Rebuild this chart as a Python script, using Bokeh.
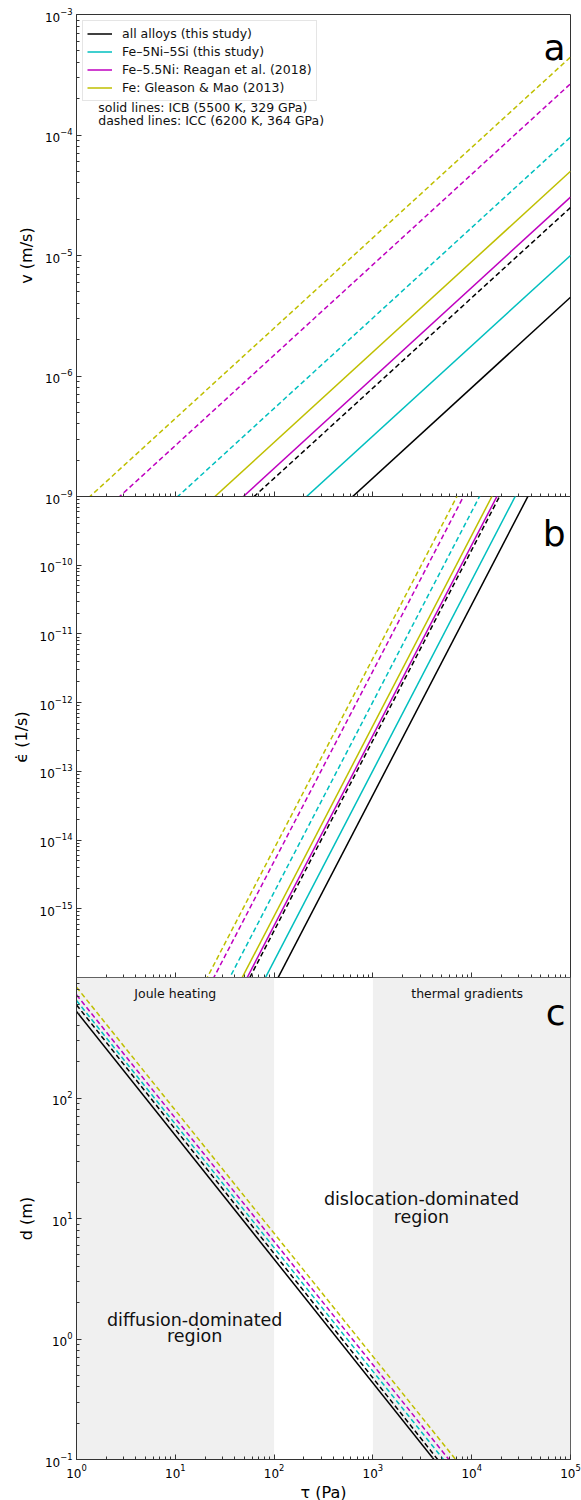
from bokeh.plotting import figure
from bokeh.layouts import column
from bokeh.models import (FixedTicker, Legend, LegendItem, Label, BoxAnnotation, Range1d)
from bokeh.embed import file_html
from bokeh.resources import INLINE

FONT = "DejaVu Sans"

# ---------------- data ----------------
tau = [1.0, 1e5]                       # shear stress end points (Pa)

# panel a: velocity v (m/s) at tau = 1 and 1e5 Pa
v_all_icb = [8.0e-10, 4.5e-6]
v_all_icc = [4.5e-9, 2.5e-5]
v_fenisi_icb = [1.8e-9, 1.0e-5]
v_fenisi_icc = [1.7e-8, 9.6e-5]
v_feni_icb = [5.4e-9, 3.05e-5]
v_feni_icc = [4.7e-8, 2.66e-4]
v_fe_icb = [8.9e-9, 5.0e-5]
v_fe_icc = [7.9e-8, 4.43e-4]

# panel b: strain rate (1/s) at tau = 1 and 1e5 Pa
e_all_icb = [2.22e-22, 1.57e-8]
e_all_icc = [1.38e-21, 9.8e-8]
e_fenisi_icb = [5.02e-22, 3.56e-8]
e_fenisi_icc = [5.02e-21, 3.56e-7]
e_feni_icb = [1.63e-21, 1.16e-7]
e_feni_icc = [1.41e-20, 1.0e-6]
e_fe_icb = [2.26e-21, 1.60e-7]
e_fe_icc = [2.16e-20, 1.53e-6]

# panel c: length scale d (m) at tau = 1 and 1e5 Pa
d_all_icb = [522.0, 0.0038]
d_all_icc = [593.0, 0.0041]
d_fenisi_icc = [644.0, 0.0048]
d_feni_icc = [718.0, 0.0055]
d_fe_icc = [832.0, 0.0065]

legend_labels = ["all alloys (this study)", "Fe\u20135Ni\u20135Si (this study)",
                 "Fe\u20135.5Ni: Reagan et al. (2018)", "Fe: Gleason & Mao (2013)"]
colors = ["#000000", "#00bfbf", "#bf00bf", "#bfbf00"]

diffusion_max_tau = 100.0
dislocation_min_tau = 1000.0

x_tick_exps = [0, 1, 2, 3, 4, 5]
ya_tick_exps = [-6, -5, -4, -3]
yb_tick_exps = [-15, -14, -13, -12, -11, -10, -9]
yc_tick_exps = [-1, 0, 1, 2]

# ---------------- helpers ----------------
AX = "#333333"
TICK_FS = "12px"
AXLAB_FS = "16px"


def minors(lo, hi):
    return [m * 10.0 ** k for k in range(lo, hi) for m in range(2, 10)]


def style_axis(ax, exps, lo, hi, labels=True):
    ax.ticker = FixedTicker(ticks=[10.0 ** k for k in exps], minor_ticks=minors(lo, hi))
    ax.major_tick_in = 5
    ax.major_tick_out = 0
    ax.minor_tick_in = 3
    ax.minor_tick_out = 0
    ax.axis_line_color = AX
    ax.major_tick_line_color = AX
    ax.minor_tick_line_color = AX
    ax.major_label_text_font = FONT
    ax.major_label_text_color = "#000000"
    ax.axis_label_text_font = FONT
    ax.axis_label_text_font_style = "normal"
    ax.axis_label_text_font_size = AXLAB_FS
    ax.axis_label_text_color = "#000000"
    if labels:
        ax.major_label_text_font_size = TICK_FS
        ax.major_label_standoff = 4
        ax.axis_label_standoff = 6
    else:
        ax.major_label_text_font_size = "1px"
        ax.major_label_text_alpha = 0
        ax.major_label_standoff = 0


def make_fig(ylo, yhi, fh, top, bottom, mtop, transparent):
    p = figure(x_axis_type="log", y_axis_type="log",
               x_range=Range1d(1.0, 1e5), y_range=Range1d(ylo, yhi),
               frame_width=494, frame_height=fh,
               min_border_left=76, min_border_right=11,
               min_border_top=top, min_border_bottom=bottom,
               output_backend="svg", toolbar_location=None,
               margin=(mtop, 0, 0, 0))
    p.grid.visible = False
    p.outline_line_color = AX
    p.outline_line_alpha = 1
    if transparent:
        p.border_fill_alpha = 0
    return p


def panel_letter(p, txt, x, y):
    p.add_layout(Label(x=x, y=y, text=txt,
                       text_font=FONT, text_font_size="36px", text_align="right",
                       text_baseline="alphabetic", text_color="#000000"))


def note(p, x, y, txt):
    p.add_layout(Label(x=x, y=y, text=txt, text_font=FONT, text_font_size="12.5px",
                       text_baseline="middle", text_color="#111111"))


LW = 1.5
DASH = "5 3"

# ---------------- panel a ----------------
pa = make_fig(1e-7, 1e-3, 482, 14, 10, 0, False)
style_axis(pa.xaxis[0], x_tick_exps, 0, 5, labels=False)
style_axis(pa.yaxis[0], ya_tick_exps, -7, -3)
pa.yaxis.axis_label = "v (m/s)"

a_solid = [v_all_icb, v_fenisi_icb, v_feni_icb, v_fe_icb]
a_dash = [v_all_icc, v_fenisi_icc, v_feni_icc, v_fe_icc]
solid_r = []
for ys, c in zip(a_solid, colors):
    solid_r.append(pa.line(tau, ys, line_color=c, line_width=LW))
for ys, c in zip(a_dash, colors):
    pa.line(tau, ys, line_color=c, line_width=LW, line_dash=DASH)

legend = Legend(items=[LegendItem(label=l, renderers=[r]) for l, r in zip(legend_labels, solid_r)],
                location="top_left", margin=6, padding=4, spacing=1,
                label_height=17, glyph_height=17, glyph_width=25, label_standoff=10,
                label_text_font=FONT, label_text_font_size="12.5px", label_text_color="#111111",
                border_line_color="#cccccc", border_line_width=1,
                background_fill_color="white", background_fill_alpha=0.85)
pa.add_layout(legend)

note(pa, 1.66, 1.69e-4, "solid lines: ICB (5500 K, 329 GPa)")
note(pa, 1.66, 1.32e-4, "dashed lines: ICC (6200 K, 364 GPa)")
panel_letter(pa, "a", 89000.0, 5.3e-4)

# ---------------- panel b ----------------
pb = make_fig(1e-16, 1e-9, 481, 10, 10, -20, True)
style_axis(pb.xaxis[0], x_tick_exps, 0, 5, labels=False)
style_axis(pb.yaxis[0], yb_tick_exps, -16, -9)
pb.yaxis.axis_label = "\u03f5\u0307 (1/s)"

b_solid = [e_all_icb, e_fenisi_icb, e_feni_icb, e_fe_icb]
b_dash = [e_all_icc, e_fenisi_icc, e_feni_icc, e_fe_icc]
for ys, c in zip(b_solid, colors):
    pb.line(tau, ys, line_color=c, line_width=LW)
for ys, c in zip(b_dash, colors):
    pb.line(tau, ys, line_color=c, line_width=LW, line_dash=DASH)
panel_letter(pb, "b", 89000.0, 2.9e-10)

# ---------------- panel c ----------------
pc = make_fig(0.1, 1000.0, 482, 10, 38, -20, True)
style_axis(pc.xaxis[0], x_tick_exps, 0, 5)
style_axis(pc.yaxis[0], yc_tick_exps, -1, 3)
pc.xaxis.axis_label = "\u03c4 (Pa)"
pc.xaxis.axis_label_standoff = 2
pc.yaxis.axis_label = "d (m)"

GRAY = "#f0f0f0"
pc.add_layout(BoxAnnotation(right=diffusion_max_tau, fill_color=GRAY, fill_alpha=1,
                            line_alpha=0, level="underlay"))
pc.add_layout(BoxAnnotation(left=dislocation_min_tau, fill_color=GRAY, fill_alpha=1,
                            line_alpha=0, level="underlay"))

pc.line(tau, d_all_icb, line_color=colors[0], line_width=LW)
for ys, c in zip([d_all_icc, d_fenisi_icc, d_feni_icc, d_fe_icc], colors):
    pc.line(tau, ys, line_color=c, line_width=LW, line_dash=DASH)


def ctext(p, x, y, t, size):
    p.add_layout(Label(x=x, y=y, text=t, text_font=FONT, text_font_size=size,
                       text_align="center", text_baseline="alphabetic", text_color="#111111"))


ctext(pc, 10.0, 733.0, "Joule heating", "12.5px")
ctext(pc, 9000.0, 733.0, "thermal gradients", "12.5px")
ctext(pc, 3100.0, 14.6, "dislocation-dominated", "17.5px")
ctext(pc, 3100.0, 10.3, "region", "17.5px")
ctext(pc, 15.7, 1.45, "diffusion-dominated", "17.5px")
ctext(pc, 15.7, 1.05, "region", "17.5px")
panel_letter(pc, "c", 89000.0, 513.0)

layout = column(pa, pb, pc, spacing=0)
open("out.html", "w").write(file_html(layout, INLINE))
